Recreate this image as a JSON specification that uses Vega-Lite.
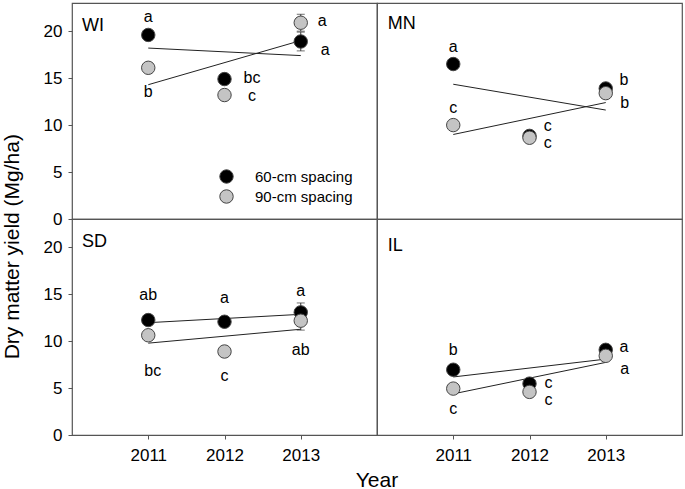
{
  "$schema": "https://vega.github.io/schema/vega-lite/v6.json",
  "padding": {"left": 2, "top": 2, "right": 2, "bottom": 0},
  "background": "white",
  "bounds": "flush",
  "title": {"text": "Dry matter yield (Mg/ha)", "orient": "left", "anchor": "middle", "fontSize": 21, "fontWeight": "normal", "font": "Liberation Sans", "color": "black", "offset": 20, "dx": 0},
  "config": {
    "font": "Liberation Sans",
    "view": {"stroke": "#555", "strokeWidth": 1.2},
    "axis": {"grid": false, "domain": false, "labelFont": "Liberation Sans", "titleFont": "Liberation Sans", "labelFontSize": 17, "titleFontSize": 19, "titleFontWeight": "normal", "labelColor": "black", "titleColor": "black", "tickColor": "#555", "tickSize": 4},
    "legend": {"labelFont": "Liberation Sans", "labelFontSize": 15, "labelColor": "black"},
    "header": {"labels": false, "titleFont": "Liberation Sans", "titleFontSize": 21, "titleFontWeight": "normal", "titleColor": "black"}
  },
  "data": {"values": [
    {"kind": "pt", "site": "WI", "year": 2011, "spacing": "60-cm spacing", "y": 19.6},
    {"kind": "pt", "site": "WI", "year": 2011, "spacing": "90-cm spacing", "y": 16.1},
    {"kind": "pt", "site": "WI", "year": 2012, "spacing": "60-cm spacing", "y": 14.9},
    {"kind": "pt", "site": "WI", "year": 2012, "spacing": "90-cm spacing", "y": 13.2},
    {"kind": "pt", "site": "WI", "year": 2013, "spacing": "60-cm spacing", "y": 18.9, "lo": 17.9, "hi": 19.9},
    {"kind": "pt", "site": "WI", "year": 2013, "spacing": "90-cm spacing", "y": 20.9, "lo": 20.0, "hi": 21.8},
    {"kind": "pt", "site": "MN", "year": 2011, "spacing": "60-cm spacing", "y": 16.5},
    {"kind": "pt", "site": "MN", "year": 2011, "spacing": "90-cm spacing", "y": 10.0},
    {"kind": "pt", "site": "MN", "year": 2012, "spacing": "60-cm spacing", "y": 8.85},
    {"kind": "pt", "site": "MN", "year": 2012, "spacing": "90-cm spacing", "y": 8.65},
    {"kind": "pt", "site": "MN", "year": 2013, "spacing": "60-cm spacing", "y": 13.9},
    {"kind": "pt", "site": "MN", "year": 2013, "spacing": "90-cm spacing", "y": 13.4},
    {"kind": "pt", "site": "SD", "year": 2011, "spacing": "60-cm spacing", "y": 12.24},
    {"kind": "pt", "site": "SD", "year": 2011, "spacing": "90-cm spacing", "y": 10.62},
    {"kind": "pt", "site": "SD", "year": 2012, "spacing": "60-cm spacing", "y": 12.06},
    {"kind": "pt", "site": "SD", "year": 2012, "spacing": "90-cm spacing", "y": 8.89},
    {"kind": "pt", "site": "SD", "year": 2013, "spacing": "60-cm spacing", "y": 13.06, "lo": 12.06, "hi": 14.06},
    {"kind": "pt", "site": "SD", "year": 2013, "spacing": "90-cm spacing", "y": 12.17, "lo": 11.17, "hi": 13.17},
    {"kind": "pt", "site": "IL", "year": 2011, "spacing": "60-cm spacing", "y": 6.95},
    {"kind": "pt", "site": "IL", "year": 2011, "spacing": "90-cm spacing", "y": 4.94},
    {"kind": "pt", "site": "IL", "year": 2012, "spacing": "60-cm spacing", "y": 5.47},
    {"kind": "pt", "site": "IL", "year": 2012, "spacing": "90-cm spacing", "y": 4.59},
    {"kind": "pt", "site": "IL", "year": 2013, "spacing": "60-cm spacing", "y": 9.07},
    {"kind": "pt", "site": "IL", "year": 2013, "spacing": "90-cm spacing", "y": 8.43},

    {"kind": "fit", "site": "WI", "year": 2011, "spacing": "60-cm spacing", "y": 18.2},
    {"kind": "fit", "site": "WI", "year": 2013, "spacing": "60-cm spacing", "y": 17.4},
    {"kind": "fit", "site": "WI", "year": 2011, "spacing": "90-cm spacing", "y": 14.3},
    {"kind": "fit", "site": "WI", "year": 2013, "spacing": "90-cm spacing", "y": 19.0},
    {"kind": "fit", "site": "MN", "year": 2011, "spacing": "60-cm spacing", "y": 14.35},
    {"kind": "fit", "site": "MN", "year": 2013, "spacing": "60-cm spacing", "y": 11.6},
    {"kind": "fit", "site": "MN", "year": 2011, "spacing": "90-cm spacing", "y": 9.0},
    {"kind": "fit", "site": "MN", "year": 2013, "spacing": "90-cm spacing", "y": 12.4},
    {"kind": "fit", "site": "SD", "year": 2011, "spacing": "60-cm spacing", "y": 11.96},
    {"kind": "fit", "site": "SD", "year": 2013, "spacing": "60-cm spacing", "y": 12.85},
    {"kind": "fit", "site": "SD", "year": 2011, "spacing": "90-cm spacing", "y": 9.78},
    {"kind": "fit", "site": "SD", "year": 2013, "spacing": "90-cm spacing", "y": 11.26},
    {"kind": "fit", "site": "IL", "year": 2011, "spacing": "60-cm spacing", "y": 6.18},
    {"kind": "fit", "site": "IL", "year": 2013, "spacing": "60-cm spacing", "y": 8.08},
    {"kind": "fit", "site": "IL", "year": 2011, "spacing": "90-cm spacing", "y": 4.38},
    {"kind": "fit", "site": "IL", "year": 2013, "spacing": "90-cm spacing", "y": 7.73},

    {"kind": "lab", "site": "WI", "year": 2011, "y": 21.5, "label": "a"},
    {"kind": "lab", "site": "WI", "year": 2011, "y": 13.5, "label": "b"},
    {"kind": "lab", "site": "WI", "year": 2012.36, "y": 15.0, "label": "bc"},
    {"kind": "lab", "site": "WI", "year": 2012.36, "y": 13.05, "label": "c"},
    {"kind": "lab", "site": "WI", "year": 2013.28, "y": 21.05, "label": "a"},
    {"kind": "lab", "site": "WI", "year": 2013.32, "y": 18.0, "label": "a"},
    {"kind": "lab", "site": "MN", "year": 2011, "y": 18.27, "label": "a"},
    {"kind": "lab", "site": "MN", "year": 2011, "y": 11.8, "label": "c"},
    {"kind": "lab", "site": "MN", "year": 2012.24, "y": 9.94, "label": "c"},
    {"kind": "lab", "site": "MN", "year": 2012.24, "y": 8.1, "label": "c"},
    {"kind": "lab", "site": "MN", "year": 2013.24, "y": 14.8, "label": "b"},
    {"kind": "lab", "site": "MN", "year": 2013.25, "y": 12.4, "label": "b"},
    {"kind": "lab", "site": "SD", "year": 2011, "y": 14.9, "label": "ab"},
    {"kind": "lab", "site": "SD", "year": 2011.06, "y": 6.77, "label": "bc"},
    {"kind": "lab", "site": "SD", "year": 2012, "y": 14.54, "label": "a"},
    {"kind": "lab", "site": "SD", "year": 2012, "y": 6.25, "label": "c"},
    {"kind": "lab", "site": "SD", "year": 2013, "y": 15.3, "label": "a"},
    {"kind": "lab", "site": "SD", "year": 2013, "y": 9.07, "label": "ab"},
    {"kind": "lab", "site": "IL", "year": 2011, "y": 9.07, "label": "b"},
    {"kind": "lab", "site": "IL", "year": 2011, "y": 2.79, "label": "c"},
    {"kind": "lab", "site": "IL", "year": 2012.25, "y": 5.54, "label": "c"},
    {"kind": "lab", "site": "IL", "year": 2012.25, "y": 3.7, "label": "c"},
    {"kind": "lab", "site": "IL", "year": 2013.24, "y": 9.42, "label": "a"},
    {"kind": "lab", "site": "IL", "year": 2013.25, "y": 7.06, "label": "a"},

    {"kind": "title", "site": "WI", "year": 2010.13, "y": 20.6, "label": "WI"},
    {"kind": "title", "site": "MN", "year": 2010.14, "y": 20.8, "label": "MN"},
    {"kind": "title", "site": "SD", "year": 2010.13, "y": 20.5, "label": "SD"},
    {"kind": "title", "site": "IL", "year": 2010.14, "y": 20.1, "label": "IL"}
  ]},
  "transform": [
    {"calculate": "indexof(['WI','MN'], datum.site) >= 0 ? 'top' : 'bottom'", "as": "prow"},
    {"calculate": "indexof(['WI','SD'], datum.site) >= 0 ? 'left' : 'right'", "as": "pcol"}
  ],
  "facet": {
    "row": {"field": "prow", "type": "nominal", "sort": ["top", "bottom"], "header": {"labels": false, "title": null}},
    "column": {"field": "pcol", "type": "nominal", "sort": ["left", "right"], "header": {"labels": false, "title": "Year", "titleOrient": "bottom", "titlePadding": -3}}
  },
  "spacing": 0,
  "spec": {
    "width": 305,
    "height": 216,
    "encoding": {
      "x": {"field": "year", "type": "quantitative", "scale": {"domain": [2010, 2014], "nice": false, "zero": false}, "axis": {"values": [2011, 2012, 2013], "format": "d", "title": null, "labelPadding": 8}},
      "y": {"field": "y", "type": "quantitative", "scale": {"domain": [0, 23], "nice": false}, "axis": {"values": [0, 5, 10, 15, 20], "title": null, "labelPadding": 6}}
    },
    "layer": [
      {
        "transform": [{"filter": "datum.kind === 'fit'"}],
        "mark": {"type": "line", "color": "#222", "strokeWidth": 1},
        "encoding": {"detail": {"field": "spacing", "type": "nominal"}}
      },
      {
        "transform": [{"filter": "datum.kind === 'pt' && isValid(datum.lo)"}],
        "mark": {"type": "rule", "color": "#333", "strokeWidth": 1},
        "encoding": {"y": {"field": "lo", "type": "quantitative"}, "y2": {"field": "hi"}}
      },
      {
        "transform": [{"filter": "datum.kind === 'pt' && isValid(datum.lo)"}],
        "mark": {"type": "tick", "color": "#333", "orient": "horizontal", "size": 8, "thickness": 1},
        "encoding": {"y": {"field": "lo", "type": "quantitative"}}
      },
      {
        "transform": [{"filter": "datum.kind === 'pt' && isValid(datum.hi)"}],
        "mark": {"type": "tick", "color": "#333", "orient": "horizontal", "size": 8, "thickness": 1},
        "encoding": {"y": {"field": "hi", "type": "quantitative"}}
      },
      {
        "transform": [{"filter": "datum.kind === 'pt'"}],
        "mark": {"type": "point", "shape": "circle", "filled": true, "size": 180, "stroke": "#444", "strokeWidth": 1, "opacity": 1},
        "encoding": {
          "fill": {"field": "spacing", "type": "nominal", "scale": {"domain": ["60-cm spacing", "90-cm spacing"], "range": ["black", "#c4c4c4"]},
            "legend": {"title": null, "orient": "none", "legendX": 147, "legendY": 166, "symbolSize": 180, "symbolStrokeColor": "#444", "symbolStrokeWidth": 1, "rowPadding": 1, "labelOffset": 21}}
        }
      },
      {
        "transform": [{"filter": "datum.kind === 'lab'"}],
        "mark": {"type": "text", "fontSize": 16, "align": "center", "baseline": "middle", "color": "black"},
        "encoding": {"text": {"field": "label", "type": "nominal"}}
      },
      {
        "transform": [{"filter": "datum.kind === 'title'"}],
        "mark": {"type": "text", "fontSize": 18, "align": "left", "baseline": "middle", "color": "black"},
        "encoding": {"text": {"field": "label", "type": "nominal"}}
      }
    ]
  }
}
